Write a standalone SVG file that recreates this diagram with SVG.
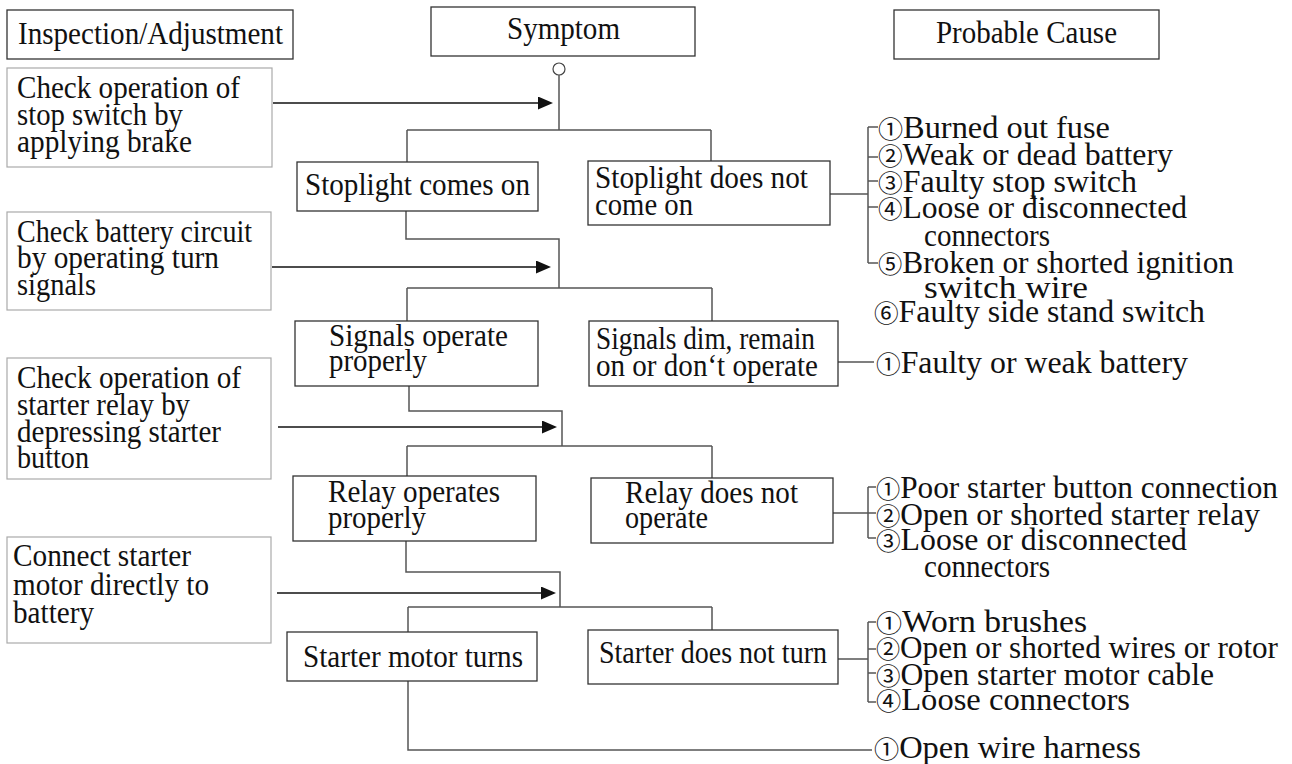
<svg xmlns="http://www.w3.org/2000/svg" width="1292" height="764" viewBox="0 0 1292 764" font-family="Liberation Serif, Times New Roman, serif" font-size="31">
<style>
text{fill:#111}
.n{font-family:'Noto Sans CJK JP','DejaVu Sans',sans-serif;font-size:24px}
.hb{fill:#fff;stroke:#333;stroke-width:1.3}
.ib{fill:#fff;stroke:#aaa;stroke-width:1.2}
.sb{fill:#fff;stroke:#333;stroke-width:1.3}
.c{fill:none;stroke:#555;stroke-width:1.5}
.a{fill:none;stroke:#111;stroke-width:1.5}
</style>
<defs>
<marker id="ah" markerUnits="userSpaceOnUse" markerWidth="16" markerHeight="14" refX="0" refY="6.5" orient="auto"><path d="M0,0 L15,6.5 L0,13 z" fill="#111"/></marker>
</defs>
<rect width="1292" height="764" fill="#fff"/>
<g id="connectors">
<circle cx="559" cy="69" r="6" fill="#fff" stroke="#444" stroke-width="1.2"/>
<path class="c" d="M559 75 V130 M407 130 H711 M407 130 V162 M711 130 V161"/>
<path class="c" d="M406 211 V239 H559 V288 M407 288 H712 M407 288 V321 M712 288 V321"/>
<path class="c" d="M409 386 V411 H562 V446 M407 446 H712 M407 446 V476 M712 446 V478"/>
<path class="c" d="M406 541 V572 H560 V607 M408 607 H712 M408 607 V632 M712 607 V630"/>
<path class="c" d="M408 681 V750 H872"/>
<path class="c" d="M830 194 H868 M868 127 V263 M868 127 H878 M868 157 H878 M868 181 H878 M868 207 H878 M868 263 H878"/>
<path class="c" d="M838 362 H874"/>
<path class="c" d="M833 513 H868 M868 487 V538 M868 487 H876 M868 513 H876 M868 538 H876"/>
<path class="c" d="M838 659 H868 M868 622 V702 M868 622 H876 M868 649 H876 M868 673 H876 M868 702 H876"/>
<line class="a" x1="273" y1="103" x2="538" y2="103" marker-end="url(#ah)"/>
<line class="a" x1="272" y1="267" x2="536" y2="267" marker-end="url(#ah)"/>
<line class="a" x1="278" y1="427" x2="542" y2="427" marker-end="url(#ah)"/>
<line class="a" x1="277" y1="593" x2="541" y2="593" marker-end="url(#ah)"/>
</g>
<g id="h-inspection"><rect class="hb" x="7" y="10" width="286" height="49"/><text x="18" y="44" textLength="265" lengthAdjust="spacingAndGlyphs">Inspection/Adjustment</text></g>
<g id="h-symptom"><rect class="hb" x="431" y="7" width="264" height="49"/><text x="507" y="39" textLength="113" lengthAdjust="spacingAndGlyphs">Symptom</text></g>
<g id="h-cause"><rect class="hb" x="894" y="10" width="265" height="49"/><text x="936" y="43" textLength="181" lengthAdjust="spacingAndGlyphs">Probable Cause</text></g>
<g id="i1"><rect class="ib" x="7" y="68" width="265" height="99"/>
<text x="17" y="98" textLength="223" lengthAdjust="spacingAndGlyphs">Check operation of</text>
<text x="17" y="125" textLength="166" lengthAdjust="spacingAndGlyphs">stop switch by</text>
<text x="17" y="152" textLength="175" lengthAdjust="spacingAndGlyphs">applying brake</text></g>
<g id="i2"><rect class="ib" x="7" y="212" width="264" height="98"/>
<text x="17" y="242" textLength="235" lengthAdjust="spacingAndGlyphs">Check battery circuit</text>
<text x="17" y="268" textLength="202" lengthAdjust="spacingAndGlyphs">by operating turn</text>
<text x="17" y="295" textLength="79" lengthAdjust="spacingAndGlyphs">signals</text></g>
<g id="i3"><rect class="ib" x="7" y="358" width="264" height="121"/>
<text x="17" y="388" textLength="224" lengthAdjust="spacingAndGlyphs">Check operation of</text>
<text x="17" y="415" textLength="173" lengthAdjust="spacingAndGlyphs">starter relay by</text>
<text x="17" y="442" textLength="204" lengthAdjust="spacingAndGlyphs">depressing starter</text>
<text x="17" y="468" textLength="72" lengthAdjust="spacingAndGlyphs">button</text></g>
<g id="i4"><rect class="ib" x="7" y="537" width="264" height="106"/>
<text x="13" y="566" textLength="178" lengthAdjust="spacingAndGlyphs">Connect starter</text>
<text x="13" y="595" textLength="196" lengthAdjust="spacingAndGlyphs">motor directly to</text>
<text x="13" y="623" textLength="81" lengthAdjust="spacingAndGlyphs">battery</text></g>
<g id="s1"><rect class="sb" x="297" y="162" width="241" height="49"/><text x="305" y="195" textLength="225" lengthAdjust="spacingAndGlyphs">Stoplight comes on</text></g>
<g id="s2"><rect class="sb" x="588" y="161" width="242" height="64"/>
<text x="595" y="188" textLength="213" lengthAdjust="spacingAndGlyphs">Stoplight does not</text>
<text x="595" y="215" textLength="98" lengthAdjust="spacingAndGlyphs">come on</text></g>
<g id="s3"><rect class="sb" x="295" y="321" width="243" height="65"/>
<text x="329" y="346" textLength="179" lengthAdjust="spacingAndGlyphs">Signals operate</text>
<text x="329" y="371" textLength="98" lengthAdjust="spacingAndGlyphs">properly</text></g>
<g id="s4"><rect class="sb" x="589" y="321" width="249" height="65"/>
<text x="596" y="349" textLength="219" lengthAdjust="spacingAndGlyphs">Signals dim, remain</text>
<text x="596" y="376" textLength="222" lengthAdjust="spacingAndGlyphs">on or don‘t operate</text></g>
<g id="s5"><rect class="sb" x="293" y="476" width="243" height="65"/>
<text x="328" y="502" textLength="172" lengthAdjust="spacingAndGlyphs">Relay operates</text>
<text x="328" y="528" textLength="98" lengthAdjust="spacingAndGlyphs">properly</text></g>
<g id="s6"><rect class="sb" x="591" y="478" width="242" height="65"/>
<text x="625" y="503" textLength="173" lengthAdjust="spacingAndGlyphs">Relay does not</text>
<text x="625" y="528" textLength="83" lengthAdjust="spacingAndGlyphs">operate</text></g>
<g id="s7"><rect class="sb" x="287" y="632" width="250" height="49"/><text x="303" y="667" textLength="220" lengthAdjust="spacingAndGlyphs">Starter motor turns</text></g>
<g id="s8"><rect class="sb" x="588" y="630" width="250" height="54"/><text x="599" y="663" textLength="228" lengthAdjust="spacingAndGlyphs">Starter does not turn</text></g>
<g id="c1">
<text x="878" y="138" textLength="232" lengthAdjust="spacingAndGlyphs"><tspan class="n">①</tspan>Burned out fuse</text>
<text x="878" y="165" textLength="295" lengthAdjust="spacingAndGlyphs"><tspan class="n">②</tspan>Weak or dead battery</text>
<text x="878" y="192" textLength="259" lengthAdjust="spacingAndGlyphs"><tspan class="n">③</tspan>Faulty stop switch</text>
<text x="878" y="218" textLength="309" lengthAdjust="spacingAndGlyphs"><tspan class="n">④</tspan>Loose or disconnected</text>
<text x="924" y="246" textLength="126" lengthAdjust="spacingAndGlyphs">connectors</text>
<text x="878" y="273" textLength="356" lengthAdjust="spacingAndGlyphs"><tspan class="n">⑤</tspan>Broken or shorted ignition</text>
<text x="924" y="298" textLength="164" lengthAdjust="spacingAndGlyphs">switch wire</text>
<text x="874" y="322" textLength="331" lengthAdjust="spacingAndGlyphs"><tspan class="n">⑥</tspan>Faulty side stand switch</text></g>
<g id="c2"><text x="876" y="373" textLength="312" lengthAdjust="spacingAndGlyphs"><tspan class="n">①</tspan>Faulty or weak battery</text></g>
<g id="c3">
<text x="876" y="498" textLength="402" lengthAdjust="spacingAndGlyphs"><tspan class="n">①</tspan>Poor starter button connection</text>
<text x="876" y="525" textLength="384" lengthAdjust="spacingAndGlyphs"><tspan class="n">②</tspan>Open or shorted starter relay</text>
<text x="876" y="550" textLength="311" lengthAdjust="spacingAndGlyphs"><tspan class="n">③</tspan>Loose or disconnected</text>
<text x="924" y="577" textLength="126" lengthAdjust="spacingAndGlyphs">connectors</text></g>
<g id="c4">
<text x="876" y="632" textLength="211" lengthAdjust="spacingAndGlyphs"><tspan class="n">①</tspan>Worn brushes</text>
<text x="876" y="658" textLength="402" lengthAdjust="spacingAndGlyphs"><tspan class="n">②</tspan>Open or shorted wires or rotor</text>
<text x="876" y="685" textLength="338" lengthAdjust="spacingAndGlyphs"><tspan class="n">③</tspan>Open starter motor cable</text>
<text x="876" y="710" textLength="254" lengthAdjust="spacingAndGlyphs"><tspan class="n">④</tspan>Loose connectors</text></g>
<g id="c5"><text x="874" y="758" textLength="267" lengthAdjust="spacingAndGlyphs"><tspan class="n">①</tspan>Open wire harness</text></g>
</svg>
